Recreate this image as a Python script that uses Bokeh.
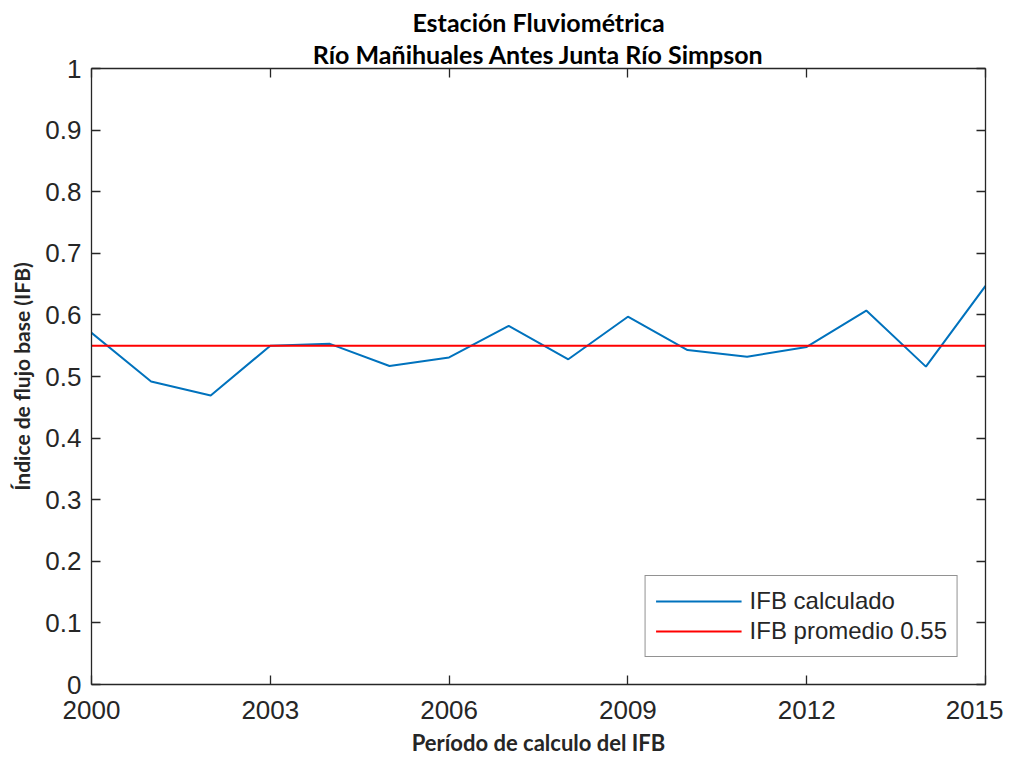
from bokeh.plotting import figure
from bokeh.models import (LinearAxis, Title, Legend, LegendItem, FixedTicker,
                          CustomJSTickFormatter, Range1d)
from bokeh.embed import file_html
from bokeh.resources import INLINE

# ---- data ----
years = [2000, 2001, 2002, 2003, 2004, 2005, 2006, 2007,
         2008, 2009, 2010, 2011, 2012, 2013, 2014, 2015]
ifb = [0.571, 0.492, 0.469, 0.550, 0.553, 0.517, 0.531, 0.582,
       0.528, 0.597, 0.543, 0.532, 0.548, 0.607, 0.516, 0.647]
ifb_mean = 0.55
x_ticks = [2000, 2003, 2006, 2009, 2012, 2015]
y_ticks = [0, 0.1, 0.2, 0.3, 0.4, 0.5, 0.6, 0.7, 0.8, 0.9, 1.0]

title1 = "Estación Fluviométrica"
title2 = "Río Mañihuales Antes Junta Río Simpson"
xlabel = "Período de calculo del IFB"
ylabel = "Índice de flujo base (IFB)"
label_calc = "IFB calculado"
label_mean = "IFB promedio %.2f" % ifb_mean

AX = "#262626"
TICK_FONT = "Liberation Sans"
LABEL_FONT = "Lato"

p = figure(width=1003, height=741, output_backend="svg", toolbar_location=None,
           title=None, x_range=Range1d(2000, 2015), y_range=Range1d(0, 1),
           frame_width=894, frame_height=616,
           min_border_left=91, min_border_right=18, min_border_top=68,
           min_border_bottom=57, x_axis_type=None, y_axis_type=None)
p.grid.visible = False
p.outline_line_color = None
p.background_fill_color = "white"
p.border_fill_color = "white"

fmt = CustomJSTickFormatter(code="return tick.toFixed(1).replace(/\\.0$/, '');")
blank = CustomJSTickFormatter(code="return '';")


def style_axis(ax, show_labels):
    ax.axis_line_color = AX
    ax.axis_line_width = 1.3
    ax.major_tick_line_color = AX
    ax.major_tick_line_width = 1.3
    ax.major_tick_in = 9
    ax.major_tick_out = 0
    ax.minor_tick_line_color = None
    ax.major_label_text_color = AX
    ax.major_label_text_font = TICK_FONT
    ax.major_label_text_font_size = "26px"
    if not show_labels:
        ax.formatter = blank
        ax.major_label_standoff = 0


xb = LinearAxis(ticker=FixedTicker(ticks=x_ticks))
style_axis(xb, True)
xb.major_label_standoff = 16
xb.axis_label = xlabel
xb.axis_label_text_font = LABEL_FONT
xb.axis_label_text_font_style = "bold"
xb.axis_label_text_font_size = "22px"
xb.axis_label_text_color = AX
xb.axis_label_standoff = 7
p.add_layout(xb, "below")

yl = LinearAxis(ticker=FixedTicker(ticks=y_ticks), formatter=fmt)
style_axis(yl, True)
yl.major_label_standoff = 10
yl.axis_label = ylabel
yl.axis_label_text_font = LABEL_FONT
yl.axis_label_text_font_style = "bold"
yl.axis_label_text_font_size = "21px"
yl.axis_label_text_color = AX
yl.axis_label_standoff = 8
p.add_layout(yl, "left")

xt = LinearAxis(ticker=FixedTicker(ticks=x_ticks))
style_axis(xt, False)
p.add_layout(xt, "above")

yr = LinearAxis(ticker=FixedTicker(ticks=y_ticks))
style_axis(yr, False)
p.add_layout(yr, "right")

p.add_layout(Title(text=title2, align="center", text_font=LABEL_FONT,
                   text_font_style="bold", text_font_size="25px",
                   text_color="black", standoff=0), "above")
p.add_layout(Title(text=title1, align="center", text_font=LABEL_FONT,
                   text_font_style="bold", text_font_size="25px",
                   text_color="black", standoff=0), "above")

r_calc = p.line(years, ifb, line_color="#0072BD", line_width=2)
r_mean = p.line(years, [ifb_mean] * len(years), line_color="#FF0000", line_width=2)

legend = Legend(items=[LegendItem(label=label_calc, renderers=[r_calc]),
                       LegendItem(label=label_mean, renderers=[r_mean])],
                location="bottom_right", margin=27, padding=10, spacing=0,
                glyph_width=86, glyph_height=30, label_height=30,
                label_standoff=8, label_text_font=TICK_FONT,
                label_text_font_size="24px", label_text_color=AX,
                border_line_color=AX, border_line_width=1.3,
                background_fill_color="white", background_fill_alpha=1)
p.add_layout(legend, "center")

open("out.html", "w").write(file_html(p, INLINE))
